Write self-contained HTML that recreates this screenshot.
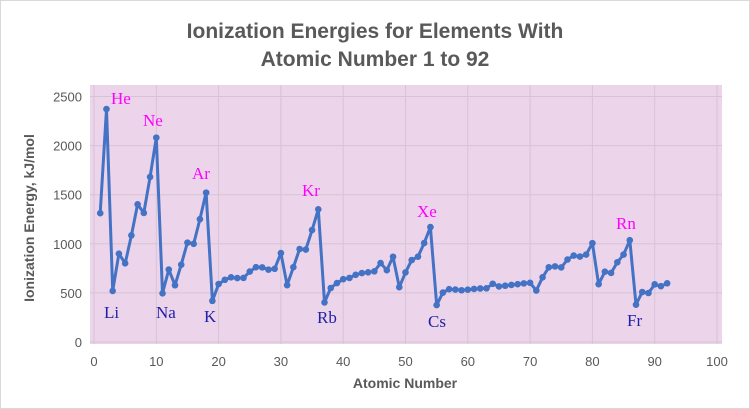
<!DOCTYPE html>
<html><head><meta charset="utf-8"><style>
html,body{margin:0;padding:0;background:#fff;}
svg{display:block;font-family:"Liberation Sans",sans-serif;}
</style></head><body>
<svg width="750" height="409" viewBox="0 0 750 409">
<rect x="0.5" y="0.5" width="749" height="408" fill="#fff" stroke="#d9d9d9"/>
<text x="375" y="38" text-anchor="middle" font-size="21" font-weight="bold" fill="#595959">Ionization Energies for Elements With</text>
<text x="375" y="66" text-anchor="middle" font-size="21" font-weight="bold" fill="#595959">Atomic Number 1 to 92</text>
<rect x="90" y="85" width="632" height="259" fill="#ecd5ea"/>
<g id="grid" stroke="#d6c4d4" stroke-width="1"></g>
<g id="yl" font-size="13" fill="#595959" text-anchor="end"></g>
<g id="xl" font-size="13" fill="#595959" text-anchor="middle"></g>
<polyline id="ln" fill="none" stroke="#4472c4" stroke-width="3" stroke-linejoin="round"/>
<g id="pts" fill="#4472c4"></g>
<text x="34" y="218" transform="rotate(-90 34 218)" text-anchor="middle" font-size="14" font-weight="bold" fill="#595959">Ionization Energy, kJ/mol</text>
<text x="405" y="388" text-anchor="middle" font-size="14" font-weight="bold" fill="#595959">Atomic Number</text>
<g font-family="Liberation Serif,serif" font-size="17">
<g fill="#ff00ff"><text x="111" y="104">He</text><text x="143" y="126">Ne</text><text x="192" y="179">Ar</text><text x="302" y="196">Kr</text><text x="417" y="217">Xe</text><text x="616" y="229">Rn</text></g>
<g fill="#1f1fa8"><text x="104" y="318">Li</text><text x="156" y="318">Na</text><text x="204" y="322">K</text><text x="317" y="323">Rb</text><text x="428" y="327">Cs</text><text x="627" y="326">Fr</text></g>
</g>
</svg>
<script>
var d=[1312,2372,520,899,801,1086,1402,1314,1681,2081,496,738,578,787,1012,1000,1251,1521,419,590,633,659,651,653,717,762,760,737,745,906,579,762,947,941,1140,1351,403,550,600,640,652,684,702,710,720,804,731,868,558,709,834,869,1008,1170,376,503,538,534,527,533,540,545,547,593,566,573,581,589,597,603,524,659,761,770,760,840,880,870,890,1007,589,716,703,812,890,1037,380,509,499,587,568,598];
function X(v){return 94+v*6.23}function Y(v){return 342-v*0.0982}
var ns="http://www.w3.org/2000/svg",g=document.getElementById('grid'),yl=document.getElementById('yl'),xl=document.getElementById('xl');
function el(p,t,a,txt){var e=document.createElementNS(ns,t);for(var k in a)e.setAttribute(k,a[k]);if(txt!=null)e.textContent=txt;p.appendChild(e);}
for(var i=0;i<=5;i++){var y=Y(i*500);el(g,'line',{x1:90,x2:722,y1:y,y2:y});el(yl,'text',{x:82,y:y+5},i*500);}
for(var i=0;i<=10;i++){var x=X(i*10);el(g,'line',{x1:x,x2:x,y1:85,y2:344});el(xl,'text',{x:x,y:366},i*10);}
var p=[],pts=document.getElementById('pts');
d.forEach(function(v,i){var x=X(i+1),y=Y(v);p.push(x.toFixed(1)+','+y.toFixed(1));el(pts,'circle',{cx:x,cy:y,r:3.3});});
document.getElementById('ln').setAttribute('points',p.join(' '));
</script>
</body></html>
